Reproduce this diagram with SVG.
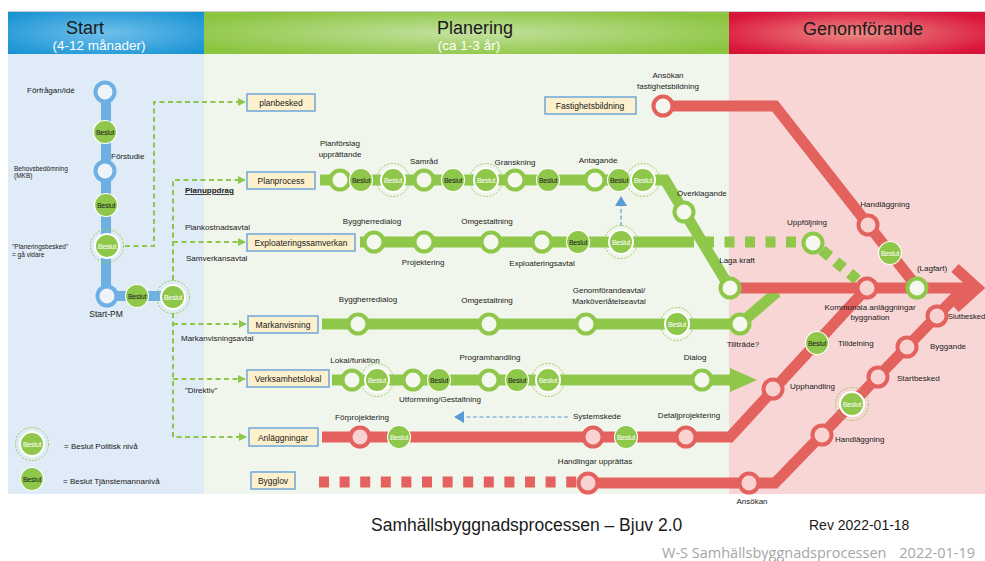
<svg xmlns="http://www.w3.org/2000/svg" xmlns:xlink="http://www.w3.org/1999/xlink" width="985" height="561" viewBox="0 0 985 561">
<style>
text{font-family:"Liberation Sans",Arial,sans-serif;fill:#1a1a1a}
.l{font-size:8px}
.m{text-anchor:middle}
.s{font-size:6.5px}
.bx{fill:#fdf0cc;stroke:#6fa6da;stroke-width:1.5}
.bxt{font-size:8.5px;text-anchor:middle}
.bt{font-size:7px;text-anchor:middle;letter-spacing:-0.2px}
.g{fill:none;stroke:#8fc74a;stroke-width:11}
.r{fill:none;stroke:#e3625e;stroke-width:11}
.dg{fill:none;stroke:#8fc74a;stroke-width:2;stroke-dasharray:5 3.5}
.db{fill:none;stroke:#5b9bd5;stroke-width:1.2;stroke-dasharray:4 2.5}
.hd{font-size:18px;text-anchor:middle}
.hs{font-size:13.5px;text-anchor:middle;fill:#fff}
</style>
<defs>
<radialGradient id="gS" cx="0.5" cy="0.5" r="0.7"><stop offset="0" stop-color="#6fc0ea"/><stop offset="1" stop-color="#1390d2"/></radialGradient>
<radialGradient id="gP" cx="0.5" cy="0.5" r="0.6"><stop offset="0" stop-color="#c3e19f"/><stop offset="1" stop-color="#8cc540"/></radialGradient>
<radialGradient id="gG" cx="0.5" cy="0.5" r="0.6"><stop offset="0" stop-color="#ee8c86"/><stop offset="1" stop-color="#d9143b"/></radialGradient>
<marker id="ag" viewBox="0 0 10 10" refX="9" refY="5" markerWidth="4" markerHeight="4" orient="auto"><path d="M0,0 L10,5 L0,10 z" fill="#8fc74a"/></marker>
<g id="bT"><circle r="11.5" fill="#8fc74a" stroke="#fff" stroke-width="1.2"/><text class="bt" y="2.5">Beslut</text></g>
<g id="bW"><circle r="11.5" fill="#8fc74a" stroke="#fff" stroke-width="1.2"/><text class="bt" y="2.5" style="fill:#fff">Beslut</text></g>
<g id="bP"><circle r="16.5" fill="none" stroke="#8fc74a" stroke-width="0.9" stroke-dasharray="2 1.4"/><circle r="12" fill="#8fc74a" stroke="#fff" stroke-width="2"/><text class="bt" y="2.5" style="fill:#fff">Beslut</text></g>
<circle id="og" r="9.5" fill="#f4f8ef" stroke="#8fc74a" stroke-width="4"/>
<circle id="or" r="9.5" fill="#f9d3d2" stroke="#e3625e" stroke-width="4"/>
<circle id="ob" r="9.5" fill="#eef4fa" stroke="#6cb0e4" stroke-width="4"/>
</defs>

<g id="background">
<rect x="0" y="0" width="985" height="561" fill="#fff"/>
<rect x="8" y="54" width="196" height="440" fill="#dfebf6"/>
<rect x="204" y="54" width="525" height="440" fill="#f1f6ec"/>
<rect x="729" y="54" width="256" height="440" fill="#f8d6d5"/>
<rect x="8" y="11" width="977" height="1.2" fill="#cfcfcf"/>
<rect x="8" y="12" width="196" height="42" fill="url(#gS)"/>
<rect x="204" y="12" width="525" height="42" fill="url(#gP)"/>
<rect x="729" y="12" width="256" height="42" fill="url(#gG)"/>
<text class="hd" x="85" y="33.5">Start</text>
<text class="hs" x="99" y="49.5">(4-12 månader)</text>
<text class="hd" x="475" y="33.5">Planering</text>
<text class="hs" x="469" y="49.5">(ca 1-3 år)</text>
<text class="hd" x="863" y="35">Genomförande</text>
</g>

<g id="connectors">
<path d="M106,92 V296 H173" fill="none" stroke="#6cb0e4" stroke-width="10"/>
<path class="dg" d="M125,246 H154 V102 H245" marker-end="url(#ag)"/>
<path class="dg" d="M173,280 V180 H245" marker-end="url(#ag)"/>
<path class="dg" d="M173,242 H245" marker-end="url(#ag)"/>
<path class="dg" d="M173,313 V437 H246" marker-end="url(#ag)"/>
<path class="dg" d="M173,324 H246" marker-end="url(#ag)"/>
<path class="dg" d="M173,379 H245" marker-end="url(#ag)"/>
<polyline class="g" points="320,180 665,180 730,288"/>
<line class="g" x1="360" y1="242" x2="694" y2="242"/>
<line class="g" x1="704" y1="242" x2="800" y2="242" stroke-dasharray="10 10.5"/>
<line class="g" x1="822" y1="250" x2="866" y2="287" stroke-width="10" stroke-dasharray="10 8"/>
<polyline class="g" points="322,324 740,324 777,292"/>
<line class="g" x1="332" y1="380" x2="733" y2="380"/>
<polygon points="730,368 757,380 730,392" fill="#8fc74a"/>
<polyline class="r" points="730,288 975,288"/>
<polyline class="r" points="955,268 977,288 955,308" stroke-linejoin="miter"/>
<polyline class="r" points="663,106 775,106 917,287"/>
<polyline class="r" points="322,437 730,437 867,288"/>
<line class="r" x1="319" y1="482" x2="578" y2="482" stroke-width="10" stroke-dasharray="10 10.6"/>
<polyline class="r" points="588,483 775,483 962,290"/>
<line class="db" x1="621" y1="226" x2="621" y2="204"/>
<polygon points="621,196 615,206 627,206" fill="#5b9bd5"/>
<line class="db" x1="568" y1="417" x2="462" y2="417"/>
<polygon points="454,417 464,411 464,423" fill="#5b9bd5"/>
</g>

<g id="start-nodes">
<g id="n-forfragan"><use xlink:href="#ob" x="105" y="92"/><text class="l" x="27" y="93">Förfrågan/idé</text></g>
<g id="n-s-beslut1"><use xlink:href="#bT" x="105" y="132"/><text class="l" x="111" y="159">Förstudie</text></g>
<g id="n-behov"><use xlink:href="#ob" x="105" y="171"/><text class="s" x="14" y="171">Behovsbedömning</text><text class="s" x="14" y="178">(MKB)</text></g>
<g id="n-s-beslut2"><use xlink:href="#bT" x="106" y="205"/></g>
<g id="n-s-beslut3"><use xlink:href="#bP" x="107" y="246"/><text class="s" x="12" y="249">"Planeringsbesked"</text><text class="s" x="12" y="257">= gå vidare</text></g>
<g id="n-startpm"><use xlink:href="#ob" x="107" y="296"/><text class="l m" x="106" y="317" style="font-size:8.5px">Start-PM</text></g>
<g id="n-s-beslut4"><use xlink:href="#bT" x="137" y="296"/></g>
<g id="n-s-beslut5"><use xlink:href="#bP" x="173" y="297"/></g>
</g>

<g id="edge-labels">
<text class="l" x="185" y="193" style="font-weight:bold;text-decoration:underline">Planuppdrag</text>
<text class="l" x="185" y="230">Plankostnadsavtal</text>
<text class="l" x="186" y="261">Samverkansavtal</text>
<text class="l" x="181" y="341">Markanvisningsavtal</text>
<text class="l" x="185" y="393">"Direktiv"</text>
</g>

<g id="boxes">
<g id="b-planbesked"><rect class="bx" x="247" y="94" width="68" height="17"/><text class="bxt" x="281" y="106">planbesked</text></g>
<g id="b-planprocess"><rect class="bx" x="247" y="172" width="68" height="17"/><text class="bxt" x="281" y="184">Planprocess</text></g>
<g id="b-exploatering"><rect class="bx" x="247" y="234" width="108" height="17"/><text class="bxt" x="301" y="246">Exploateringssamverkan</text></g>
<g id="b-markanvisning"><rect class="bx" x="248" y="316" width="70" height="17"/><text class="bxt" x="283" y="328">Markanvisning</text></g>
<g id="b-verksamhetslokal"><rect class="bx" x="247" y="370" width="82" height="17"/><text class="bxt" x="288" y="382">Verksamhetslokal</text></g>
<g id="b-anlaggningar"><rect class="bx" x="249" y="428" width="69" height="18"/><text class="bxt" x="283" y="441">Anläggningar</text></g>
<g id="b-bygglov"><rect class="bx" x="251" y="472" width="44" height="17"/><text class="bxt" x="273" y="484">Bygglov</text></g>
<g id="b-fastighet"><rect class="bx" x="545" y="97" width="91" height="17"/><text class="bxt" x="590" y="109">Fastighetsbildning</text></g>
</g>

<g id="planprocess-nodes">
<g id="p1"><use xlink:href="#og" x="340" y="180"/><text class="l m" x="340" y="146">Planförslag</text><text class="l m" x="340" y="157">upprättande</text></g>
<g id="p2"><use xlink:href="#bT" x="361" y="180"/></g>
<g id="p3"><use xlink:href="#bP" x="393" y="180"/></g>
<g id="p4"><use xlink:href="#og" x="424" y="180"/><text class="l m" x="424" y="164">Samråd</text></g>
<g id="p5"><use xlink:href="#bT" x="453" y="180"/></g>
<g id="p6"><use xlink:href="#bP" x="486" y="180"/></g>
<g id="p7"><use xlink:href="#og" x="515" y="180"/><text class="l m" x="515" y="165">Granskning</text></g>
<g id="p8"><use xlink:href="#bT" x="548" y="180"/></g>
<g id="p9"><use xlink:href="#og" x="595" y="180"/><text class="l m" x="598" y="163">Antagande</text></g>
<g id="p10"><use xlink:href="#bT" x="619" y="180"/></g>
<g id="p11"><use xlink:href="#bP" x="643" y="180"/></g>
<g id="p12"><use xlink:href="#og" x="684" y="212"/><text class="l" x="677" y="196">Överklagande</text></g>
<g id="p13"><use xlink:href="#og" x="730" y="288"/><text class="l m" x="737" y="263">Laga kraft</text></g>
</g>

<g id="exploatering-nodes">
<g id="e1"><use xlink:href="#og" x="374" y="242"/><text class="l m" x="372" y="224">Byggherredialog</text></g>
<g id="e2"><use xlink:href="#og" x="424" y="242"/><text class="l m" x="423" y="265">Projektering</text></g>
<g id="e3"><use xlink:href="#og" x="491" y="242"/><text class="l m" x="487" y="224">Omgestaltning</text></g>
<g id="e4"><use xlink:href="#og" x="542" y="242"/><text class="l m" x="542" y="266">Exploateringsavtal</text></g>
<g id="e5"><use xlink:href="#bT" x="578" y="242"/></g>
<g id="e6"><use xlink:href="#bP" x="621" y="242"/></g>
<g id="e7"><use xlink:href="#og" x="813" y="243"/><text class="l m" x="807" y="225">Uppföljning</text></g>
</g>

<g id="markanvisning-nodes">
<g id="m1"><use xlink:href="#og" x="358" y="324"/><text class="l m" x="368" y="302">Byggherredialog</text></g>
<g id="m2"><use xlink:href="#og" x="489" y="324"/><text class="l m" x="487" y="303">Omgestaltning</text></g>
<g id="m3"><use xlink:href="#og" x="586" y="324"/><text class="l m" x="609" y="293">Genomförandeavtal/</text><text class="l m" x="609" y="304">Marköverlåtelseavtal</text></g>
<g id="m4"><use xlink:href="#bP" x="677" y="324"/></g>
<g id="m5"><use xlink:href="#og" x="740" y="324"/><text class="l m" x="743" y="347">Tillträde?</text></g>
</g>

<g id="verksamhet-nodes">
<g id="v1"><use xlink:href="#og" x="352" y="380"/><text class="l m" x="355" y="363">Lokal/funktion</text></g>
<g id="v2"><use xlink:href="#bP" x="377" y="380"/></g>
<g id="v3"><use xlink:href="#og" x="413" y="380"/><text class="l m" x="440" y="402">Utformning/Gestaltning</text></g>
<g id="v4"><use xlink:href="#bT" x="439" y="380"/></g>
<g id="v5"><use xlink:href="#og" x="489" y="380"/><text class="l m" x="490" y="360">Programhandling</text></g>
<g id="v6"><use xlink:href="#bT" x="517" y="380"/></g>
<g id="v7"><use xlink:href="#bP" x="548" y="380"/></g>
<g id="v8"><use xlink:href="#og" x="702" y="380"/><text class="l m" x="695" y="360">Dialog</text></g>
</g>

<g id="anlaggning-nodes">
<g id="a1"><use xlink:href="#or" x="360" y="437"/><text class="l m" x="362" y="420">Förprojektering</text></g>
<g id="a2"><use xlink:href="#bW" x="399" y="437"/></g>
<g id="a3"><use xlink:href="#or" x="593" y="437"/><text class="l m" x="597" y="419">Systemskede</text></g>
<g id="a4"><use xlink:href="#bW" x="626" y="437"/></g>
<g id="a5"><use xlink:href="#or" x="686" y="437"/><text class="l m" x="689" y="418">Detaljprojektering</text></g>
<g id="a6"><use xlink:href="#or" x="773" y="389"/><text class="l" x="790" y="389">Upphandling</text></g>
<g id="a7"><use xlink:href="#bT" x="817" y="343"/><text class="l" x="838" y="346">Tilldelning</text></g>
<g id="a8"><use xlink:href="#or" x="867" y="288"/><text class="l m" x="870" y="310">Kommunala anläggningar</text><text class="l m" x="870" y="320">byggnation</text></g>
<g id="a9"><use xlink:href="#og" x="917" y="288"/><text class="l m" x="932" y="271">(Lagfart)</text></g>
</g>

<g id="fastighet-nodes">
<g id="f1"><circle cx="663" cy="106" r="9.5" fill="#f4f6f0" stroke="#e3625e" stroke-width="4"/><text class="l m" x="668" y="78">Ansökan</text><text class="l m" x="668" y="89">fastighetsbildning</text></g>
<g id="f2"><use xlink:href="#or" x="868" y="225"/><text class="l m" x="885" y="207">Handläggning</text></g>
<g id="f3"><use xlink:href="#bW" x="890" y="253"/></g>
</g>

<g id="bygglov-nodes">
<g id="y1"><use xlink:href="#or" x="588" y="483"/><text class="l m" x="595" y="464">Handlingar upprättas</text></g>
<g id="y2"><use xlink:href="#or" x="749" y="483"/><text class="l m" x="752" y="504">Ansökan</text></g>
<g id="y3"><use xlink:href="#or" x="822" y="435"/><text class="l" x="835" y="442">Handläggning</text></g>
<g id="y4"><use xlink:href="#bP" x="852" y="404"/></g>
<g id="y5"><use xlink:href="#or" x="878" y="377"/><text class="l" x="897" y="381">Startbesked</text></g>
<g id="y6"><use xlink:href="#or" x="907" y="347"/><text class="l" x="930" y="349">Byggande</text></g>
<g id="y7"><use xlink:href="#or" x="937" y="316"/><text class="l" x="948" y="319" style="font-size:7.5px">Slutbesked</text></g>
</g>

<g id="legend">
<use xlink:href="#bP" x="32" y="444"/><text class="l" x="64" y="449">= Beslut Politisk nivå</text>
<use xlink:href="#bT" x="32" y="479"/><text class="l" x="63" y="484">= Beslut Tjänstemannanivå</text>
</g>

<g id="footer">
<text x="371" y="531" style="font-size:17.5px">Samhällsbyggnadsprocessen – Bjuv 2.0</text>
<text x="809" y="530" style="font-size:14px">Rev 2022-01-18</text>
<text x="662" y="558" style="font-size:14.5px;fill:#a6a6a6;font-family:'Open Sans',sans-serif">W-S Samhällsbyggnadsprocessen</text>
<text x="975" y="558" style="font-size:14.5px;fill:#a6a6a6;font-family:'Open Sans',sans-serif;text-anchor:end">2022-01-19</text>
</g>
</svg>
